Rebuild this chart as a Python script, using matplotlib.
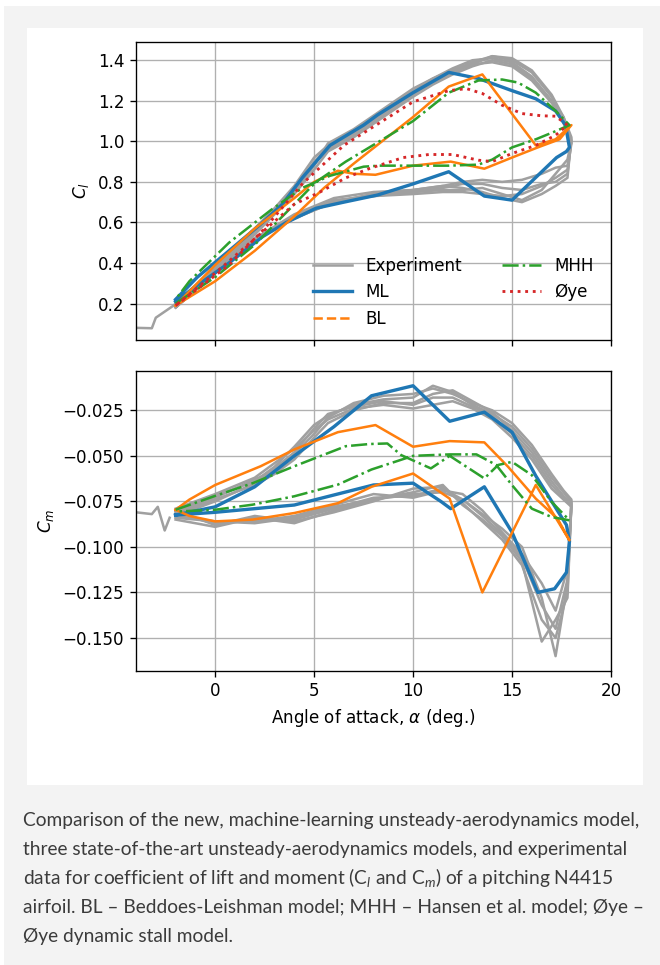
import numpy as np
import matplotlib
matplotlib.use("Agg")
import matplotlib.pyplot as plt
from matplotlib.lines import Line2D
from matplotlib.patches import Rectangle

# ---------------- data ----------------
# experiment: sampled angles for the up- and down-stroke of every cycle
exp_up_alpha = [-2, 0, 2, 3, 4, 5, 5.7, 7, 8.5, 10, 11, 12, 13, 14, 15, 16, 17, 17.6, 18]
exp_dn_alpha = [17.8, 17.2, 16.5, 15.5, 14.5, 13.5, 12.5, 11.5, 10, 8, 6, 4, 2, 0, -2]

# start-up transient before the first cycle
exp_start_alpha_cl = [-4.0, -3.2, -3.0, -2.1]
exp_start_cl = [0.08, 0.078, 0.13, 0.19]
exp_start_alpha_cm = [-4.0, -3.2, -2.9, -2.55, -2.3]
exp_start_cm = [-0.081, -0.082, -0.078, -0.091, -0.084]

exp_cl_up = [
    [0.20, 0.37, 0.56, 0.66, 0.76, 0.90, 0.97, 1.04, 1.14, 1.24, 1.30, 1.35, 1.39, 1.42, 1.40, 1.34, 1.22, 1.11, 0.99],
    [0.19, 0.36, 0.55, 0.65, 0.75, 0.88, 0.99, 1.06, 1.16, 1.26, 1.31, 1.36, 1.40, 1.41, 1.39, 1.32, 1.20, 1.09, 1.00],
    [0.18, 0.35, 0.54, 0.64, 0.74, 0.86, 0.95, 1.02, 1.12, 1.22, 1.28, 1.33, 1.37, 1.40, 1.38, 1.31, 1.20, 1.12, 1.02],
    [0.20, 0.38, 0.57, 0.67, 0.78, 0.92, 0.98, 1.05, 1.15, 1.25, 1.31, 1.35, 1.38, 1.42, 1.41, 1.35, 1.23, 1.12, 1.00],
    [0.19, 0.37, 0.55, 0.65, 0.77, 0.89, 0.96, 1.03, 1.13, 1.23, 1.29, 1.34, 1.38, 1.39, 1.37, 1.30, 1.19, 1.10, 1.01],
]
exp_cl_dn = [
    [0.86, 0.82, 0.78, 0.74, 0.73, 0.74, 0.75, 0.75, 0.74, 0.73, 0.71, 0.63, 0.52, 0.37, 0.20],
    [0.91, 0.84, 0.76, 0.71, 0.74, 0.77, 0.76, 0.76, 0.75, 0.74, 0.70, 0.62, 0.51, 0.36, 0.19],
    [0.82, 0.78, 0.74, 0.70, 0.72, 0.75, 0.77, 0.78, 0.76, 0.74, 0.70, 0.62, 0.52, 0.35, 0.18],
    [0.88, 0.87, 0.84, 0.81, 0.80, 0.81, 0.80, 0.78, 0.76, 0.75, 0.72, 0.64, 0.52, 0.37, 0.20],
    [0.84, 0.80, 0.79, 0.76, 0.77, 0.79, 0.79, 0.77, 0.75, 0.73, 0.70, 0.63, 0.51, 0.36, 0.19],
]
exp_cm_up = [
    [-0.080, -0.072, -0.064, -0.056, -0.045, -0.033, -0.028, -0.022, -0.019, -0.018, -0.0115, -0.015, -0.022, -0.027, -0.034, -0.046, -0.062, -0.070, -0.075],
    [-0.082, -0.074, -0.066, -0.060, -0.052, -0.040, -0.032, -0.025, -0.021, -0.021, -0.016, -0.014, -0.020, -0.026, -0.036, -0.048, -0.064, -0.072, -0.076],
    [-0.079, -0.071, -0.062, -0.054, -0.046, -0.036, -0.030, -0.024, -0.022, -0.024, -0.022, -0.020, -0.024, -0.030, -0.040, -0.052, -0.068, -0.074, -0.078],
    [-0.081, -0.073, -0.063, -0.058, -0.049, -0.038, -0.029, -0.021, -0.017, -0.016, -0.013, -0.016, -0.021, -0.025, -0.032, -0.044, -0.060, -0.069, -0.074],
    [-0.083, -0.075, -0.065, -0.057, -0.048, -0.035, -0.027, -0.023, -0.020, -0.022, -0.018, -0.018, -0.023, -0.028, -0.038, -0.050, -0.066, -0.073, -0.077],
]
exp_cm_dn = [
    [-0.120, -0.160, -0.128, -0.100, -0.090, -0.082, -0.074, -0.068, -0.072, -0.073, -0.079, -0.085, -0.085, -0.087, -0.082],
    [-0.128, -0.140, -0.152, -0.108, -0.094, -0.085, -0.077, -0.066, -0.070, -0.074, -0.080, -0.087, -0.084, -0.089, -0.085],
    [-0.112, -0.135, -0.120, -0.104, -0.092, -0.080, -0.071, -0.069, -0.073, -0.071, -0.077, -0.083, -0.086, -0.086, -0.083],
    [-0.125, -0.150, -0.140, -0.110, -0.096, -0.086, -0.076, -0.067, -0.068, -0.075, -0.081, -0.086, -0.083, -0.088, -0.080],
    [-0.118, -0.145, -0.132, -0.106, -0.093, -0.083, -0.074, -0.070, -0.071, -0.074, -0.078, -0.084, -0.087, -0.086, -0.084],
]

# ML model
ml_cl_alpha = [-2.0, -0.9, 0.7, 2.4, 3.4, 4.4, 5.8, 7.5, 8.2, 10.0, 11.8, 13.3, 15.0, 16.2, 17.2, 17.7, 17.9,
               17.75, 17.25, 15.0, 13.6, 11.8, 10.0, 8.2, 6.5, 5.1, 3.6, 2.4, 0.7, -0.9, -2.0]
ml_cl = [0.22, 0.33, 0.46, 0.60, 0.69, 0.82, 0.98, 1.08, 1.13, 1.24, 1.34, 1.31, 1.25, 1.21, 1.15, 1.08, 0.97,
         0.95, 0.92, 0.71, 0.73, 0.85, 0.79, 0.735, 0.70, 0.67, 0.60, 0.53, 0.40, 0.29, 0.21]
ml_cm_alpha = [-2.0, 0.0, 2.0, 4.0, 6.0, 7.9, 10.0, 11.85, 13.6, 15.0, 16.2, 17.75, 17.9,
               17.75, 17.15, 16.3, 15.0, 13.6, 11.9, 11.4, 10.0, 8.0, 4.0, 0.0, -2.0]
ml_cm = [-0.0825, -0.078, -0.067, -0.050, -0.034, -0.017, -0.0115, -0.031, -0.026, -0.037, -0.061, -0.088, -0.097,
         -0.114, -0.123, -0.125, -0.092, -0.067, -0.079, -0.075, -0.065, -0.066, -0.077, -0.081, -0.0825]

# BL model
bl_cl_alpha = [-2.0, 0.0, 2.0, 4.0, 5.5, 7.0, 8.3, 10.0, 11.8, 13.5, 16.2, 17.2, 18.0,
               17.4, 16.3, 15.0, 13.6, 11.9, 10.0, 8.1, 7.0, 6.2, 5.0, 4.0, 2.0, 0.0, -2.0]
bl_cl = [0.19, 0.31, 0.46, 0.63, 0.77, 0.89, 0.99, 1.12, 1.27, 1.33, 0.98, 1.01, 1.08,
         1.01, 0.97, 0.92, 0.865, 0.90, 0.88, 0.835, 0.84, 0.855, 0.80, 0.72, 0.57, 0.39, 0.19]
bl_cm_alpha = [-2.0, -1.3, 0.0, 2.3, 4.0, 6.2, 8.1, 10.0, 11.85, 13.6, 14.8, 16.2, 17.3, 17.9,
               16.2, 13.5, 11.85, 10.0, 7.9, 6.2, 4.0, 1.9, 0.0, -1.3, -2.0]
bl_cm = [-0.0796, -0.074, -0.066, -0.0557, -0.0465, -0.037, -0.0331, -0.045, -0.0419, -0.0426, -0.056, -0.0735, -0.0845, -0.0964,
         -0.066, -0.125, -0.0735, -0.0597, -0.067, -0.076, -0.0814, -0.085, -0.086, -0.083, -0.0796]

# MHH model
mhh_cl_alpha = [-2.0, 0.0, 2.0, 3.1, 5.1, 6.6, 8.3, 10.0, 11.8, 13.3, 14.5, 15.3, 16.2, 17.2, 17.9,
                17.2, 16.2, 15.0, 14.0, 13.3, 11.8, 10.0, 8.3, 7.5, 5.8, 4.4, 2.8, 0.7, -1.3, -2.0]
mhh_cl = [0.20, 0.33, 0.49, 0.60, 0.80, 0.90, 1.00, 1.10, 1.24, 1.30, 1.305, 1.29, 1.24, 1.15, 1.08,
          1.05, 1.01, 0.97, 0.91, 0.885, 0.88, 0.88, 0.88, 0.875, 0.83, 0.77, 0.66, 0.50, 0.31, 0.22]
mhh_cm_alpha = [-2.0, 0.0, 1.9, 4.0, 6.6, 7.8, 8.7, 9.4, 10.9, 11.85, 13.6, 14.3, 15.0, 16.0, 17.0, 17.9,
                17.0, 16.0, 15.0, 14.2, 13.2, 11.85, 10.0, 7.9, 6.2, 4.0, 1.9, 0.0, -2.0]
mhh_cm = [-0.0796, -0.072, -0.065, -0.0557, -0.0447, -0.0435, -0.0432, -0.0496, -0.0569, -0.050, -0.0624, -0.055, -0.0533, -0.0606, -0.0753, -0.0854,
          -0.0836, -0.079, -0.0661, -0.055, -0.0492, -0.0492, -0.050, -0.0575, -0.0658, -0.0722, -0.0768, -0.0796, -0.0806]

# Oye model (lift only)
oye_cl_alpha = [-2.0, 0.7, 2.5, 4.4, 6.5, 7.8, 10.0, 11.8, 12.7, 13.5, 14.5, 15.5, 16.5, 17.2, 17.8,
                17.2, 16.2, 15.0, 14.0, 13.3, 12.0, 10.8, 9.5, 7.8, 6.6, 5.3, 4.0, 2.0, 0.0, -2.0]
oye_cl = [0.19, 0.39, 0.57, 0.79, 0.98, 1.06, 1.195, 1.25, 1.26, 1.236, 1.178, 1.137, 1.126, 1.124, 1.08,
          1.03, 0.98, 0.94, 0.90, 0.907, 0.935, 0.935, 0.92, 0.866, 0.82, 0.75, 0.69, 0.52, 0.35, 0.19]

legend_labels = ['Experiment', 'ML', 'BL', 'MHH', 'Øye']

caption_lines = [
    "Comparison of the new, machine-learning unsteady-aerodynamics model,",
    "three state-of-the-art unsteady-aerodynamics models, and experimental",
    r"data for coefficient of lift and moment ($\mathrm{C}_{l}$ and $\mathrm{C}_{m}$) of a pitching N4415",
    "airfoil. BL \u2013 Beddoes-Leishman model; MHH \u2013 Hansen et al. model; Øye \u2013",
    "Øye dynamic stall model.",
]

# ---------------- style ----------------
S = 1.21  # picture is drawn a bit bigger than matplotlib defaults at 100 dpi
plt.rcParams.update({
    'font.size': 10 * S,
    'lines.linewidth': 1.5 * S,
    'axes.linewidth': 0.8 * S,
    'grid.linewidth': 0.8 * S,
    'xtick.major.size': 3.5 * S, 'ytick.major.size': 3.5 * S,
    'xtick.major.width': 0.8 * S, 'ytick.major.width': 0.8 * S,
    'xtick.major.pad': 3.5 * S, 'ytick.major.pad': 3.5 * S,
    'axes.labelpad': 4.0 * S,
    'mathtext.rm': 'Lato', 'mathtext.it': 'Lato:italic', 'mathtext.bf': 'Lato:bold',
})

exp_color = '#a0a0a0'
W, H = 660, 965


def px_rect(x0, y0, x1, y1):
    # pixel box (origin top-left) -> figure fraction [l, b, w, h]
    return [x0 / W, 1 - y1 / H, (x1 - x0) / W, (y1 - y0) / H]


fig = plt.figure(figsize=(W / 100, H / 100), dpi=100, facecolor='#f3f3f3')

# page background bits
for box, col in [((0, 0, W, 6), 'white'), ((0, 0, 4, H), 'white'), ((27, 28, 643, 785), 'white')]:
    l, b, w, h = px_rect(*box)
    fig.add_artist(Rectangle((l, b), w, h, transform=fig.transFigure,
                             facecolor=col, edgecolor='none', zorder=-5))

ax1 = fig.add_axes(px_rect(136, 42, 611, 340))
ax2 = fig.add_axes(px_rect(136, 371, 611, 670.7))

# experiment cycles
ax1.plot(exp_start_alpha_cl, exp_start_cl, color=exp_color)
ax2.plot(exp_start_alpha_cm, exp_start_cm, color=exp_color)
for up, dn in zip(exp_cl_up, exp_cl_dn):
    ax1.plot(exp_up_alpha + exp_dn_alpha, up + dn, color=exp_color)
for up, dn in zip(exp_cm_up, exp_cm_dn):
    ax2.plot(exp_up_alpha + exp_dn_alpha, up + dn, color=exp_color)

# models
ax1.plot(ml_cl_alpha, ml_cl, color='C0', lw=2 * S)
ax2.plot(ml_cm_alpha, ml_cm, color='C0', lw=2 * S)
ax1.plot(bl_cl_alpha, bl_cl, color='C1')
ax2.plot(bl_cm_alpha, bl_cm, color='C1')
ax1.plot(mhh_cl_alpha, mhh_cl, color='C2', ls='-.')
ax2.plot(mhh_cm_alpha, mhh_cm, color='C2', ls='-.')
ax1.plot(oye_cl_alpha, oye_cl, color='C3', ls=':', lw=1.7 * S)

for ax in (ax1, ax2):
    ax.set_xlim(-4, 20)
    ax.set_xticks([0, 5, 10, 15, 20])
    ax.grid(True)
ax1.tick_params(labelbottom=False)
ax1.set_ylim(0.02, 1.49)
ax1.set_yticks(np.arange(0.2, 1.41, 0.2))
ax2.set_ylim(-0.168, -0.0034)
ax2.set_yticks([-0.150, -0.125, -0.100, -0.075, -0.050, -0.025])

ax1.set_ylabel('$C_l$')
ax2.set_ylabel('$C_m$')
ax2.set_xlabel(r'Angle of attack, $\alpha$ (deg.)')
fig.align_ylabels([ax1, ax2])

handles = [Line2D([], [], color=exp_color),
           Line2D([], [], color='C0', lw=2 * S),
           Line2D([], [], color='C1', ls='--'),
           Line2D([], [], color='C2', ls='-.'),
           Line2D([], [], color='C3', ls=':', lw=1.7 * S)]
ax1.legend(handles, legend_labels, ncol=2, frameon=False, loc='upper left',
           bbox_to_anchor=(0.341, 0.33), handlelength=2.3, columnspacing=2.4)

# caption, sized so the first line spans the same width as in the page
renderer = fig.canvas.get_renderer()
probe = fig.text(0, 0, caption_lines[0], fontsize=12, family='Lato')
cap_size = 12 * 615 / probe.get_window_extent(renderer).width
probe.remove()
for i, line in enumerate(caption_lines):
    fig.text(23 / W, 1 - (826 + 29 * i) / H, line, fontsize=cap_size, family='Lato',
             color='#3b3b3b', va='baseline', ha='left', math_fontfamily='custom')

fig.savefig('out.png', dpi=100, facecolor=fig.get_facecolor())
